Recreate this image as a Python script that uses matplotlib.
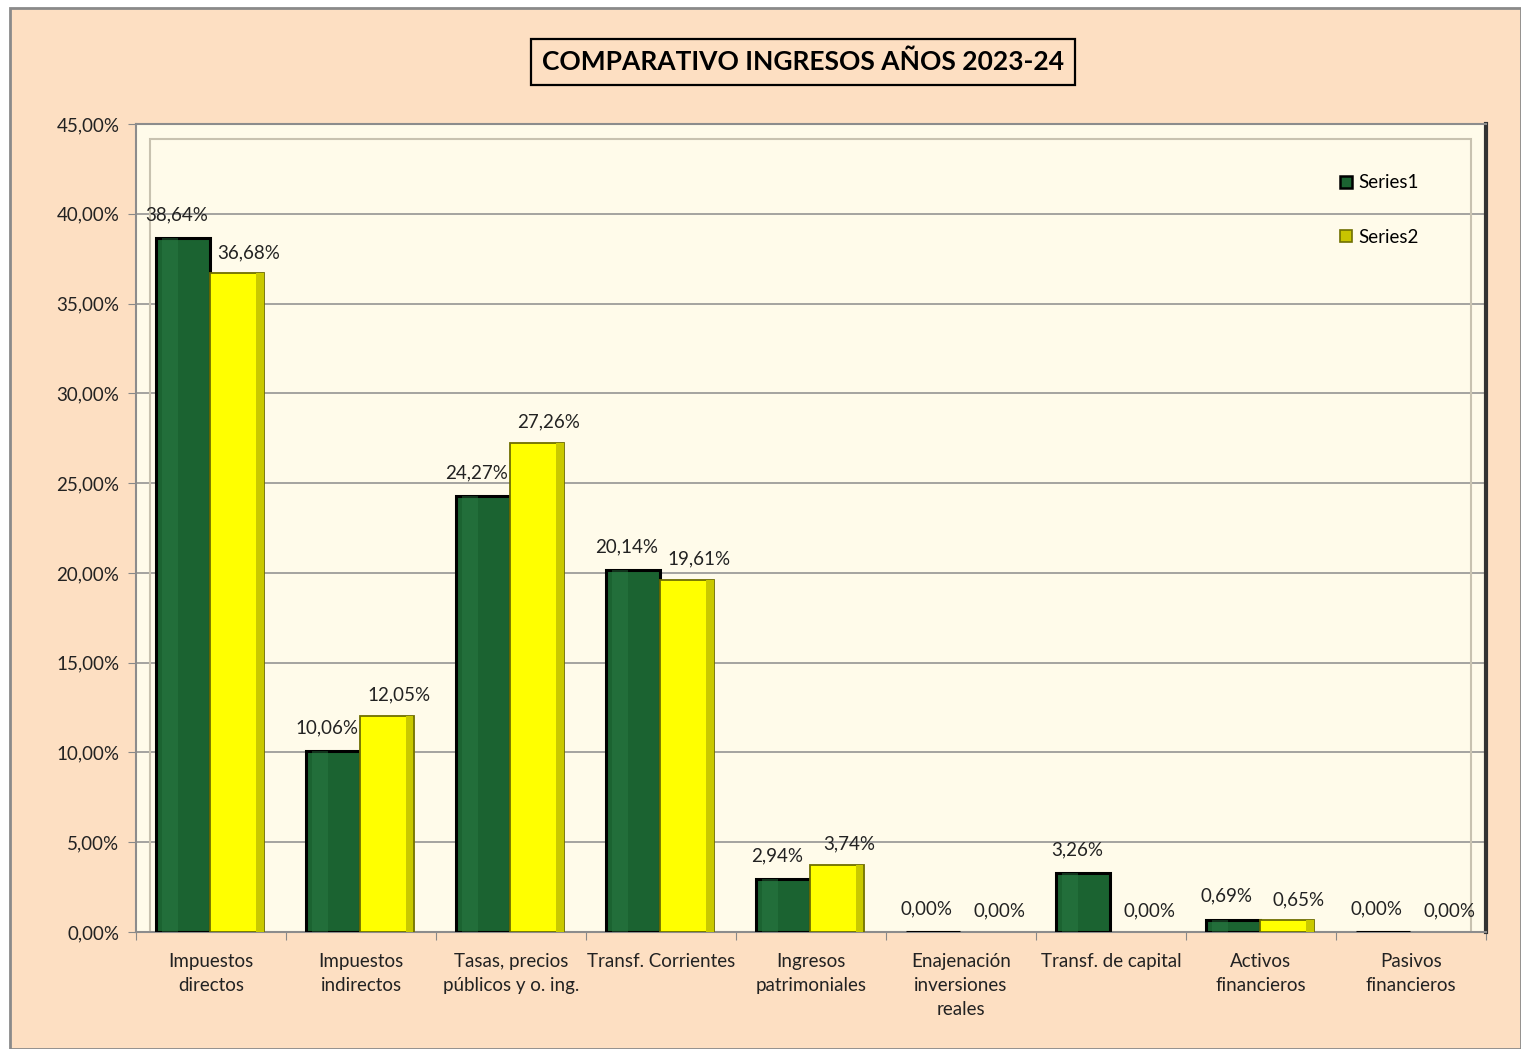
import matplotlib
matplotlib.use("Agg")
import matplotlib.pyplot as plt
from matplotlib.patches import Rectangle
from matplotlib.lines import Line2D
import numpy as np

categories = ["Impuestos\ndirectos", "Impuestos\nindirectos", "Tasas, precios\npúblicos y o. ing.",
              "Transf. Corrientes", "Ingresos\npatrimoniales", "Enajenación\ninversiones\nreales",
              "Transf. de capital", "Activos\nfinancieros", "Pasivos\nfinancieros"]
series1 = [38.64, 10.06, 24.27, 20.14, 2.94, 0.00, 3.26, 0.69, 0.00]
series2 = [36.68, 12.05, 27.26, 19.61, 3.74, 0.00, 0.00, 0.65, 0.00]
series_names = ["Series1", "Series2"]
yticks = [0, 5, 10, 15, 20, 25, 30, 35, 40, 45]
title = "COMPARATIVO INGRESOS AÑOS 2023-24"

plt.rcParams['font.family'] = ['Lato', 'DejaVu Sans']

W, H = 1521, 1049
fig = plt.figure(figsize=(W / 100, H / 100), dpi=100)
fig.patch.set_facecolor("white")

# outer chart area
bg = Rectangle((10 / W, 0), 1 - 10 / W, 1 - 8 / H, transform=fig.transFigure,
               facecolor="#FDDFC2", edgecolor="#8a8a8a", linewidth=2, zorder=-10)
fig.patches.append(bg)

ax = fig.add_axes([136 / W, 1 - 932 / H, (1486 - 136) / W, (932 - 124) / H])
ax.set_zorder(5)
ax.set_facecolor("#FFFBEA")

x = np.arange(len(categories))
w = 0.36
green = "#1B6331"
yellow = "#FFFF00"

b1 = ax.bar(x - 0.19, series1, w, color=green, edgecolor="black", linewidth=2.2, zorder=3)
b2 = ax.bar(x + 0.17, series2, w, color=yellow, edgecolor="#6f6f00",
            linewidth=[1.3 if v > 0 else 0 for v in series2], zorder=3)

# subtle highlights on green bars (texture hint)
for r in b1:
    if r.get_height() > 0:
        ax.add_patch(Rectangle((r.get_x() + r.get_width() * 0.12, 0), r.get_width() * 0.3,
                               r.get_height(), facecolor="#2E8048", edgecolor="none",
                               alpha=0.4, zorder=3.5))
# bevel on yellow bars
for r in b2:
    if r.get_height() > 0:
        ax.add_patch(Rectangle((r.get_x() + r.get_width() * 0.86, 0), r.get_width() * 0.14,
                               r.get_height(), facecolor="#C9C900", edgecolor="none", zorder=3.5))


def fmt(v):
    return f"{v:.2f}".replace(".", ",") + "%"


FS = 13.5
for r, v in zip(b1, series1):
    ax.annotate(fmt(v), (r.get_x() + r.get_width() / 2, v), xytext=(-4, 17),
                textcoords="offset points", ha="center", va="center", fontsize=FS,
                color="#222222", zorder=5)
for r, v in zip(b2, series2):
    ax.annotate(fmt(v), (r.get_x() + r.get_width() / 2, v), xytext=(9, 15),
                textcoords="offset points", ha="center", va="center", fontsize=FS,
                color="#222222", zorder=5)

ax.set_xlim(-0.5, len(categories) - 0.5)
ax.set_ylim(0, 45)
ax.set_yticks(yticks)
ax.set_yticklabels([f"{t:.2f}".replace(".", ",") + "%" for t in yticks], fontsize=13.5, color="#222222")
ax.set_xticks(np.arange(len(categories) + 1) - 0.5, minor=False)
ax.set_xticklabels([])
ax.set_xticks(x, minor=True)
ax.set_xticklabels(categories, minor=True, fontsize=FS, color="#222222", linespacing=1.5, va="top")
ax.tick_params(axis="x", which="minor", length=0, pad=15)
ax.tick_params(axis="x", which="major", length=6, color="#888888")
ax.tick_params(axis="y", length=6, color="#888888", pad=6)

ax.grid(axis="y", color="#8c8c8c", linewidth=1.1, zorder=1)
for s in ["left", "bottom", "top"]:
    ax.spines[s].set_color("#8c8c8c")
    ax.spines[s].set_linewidth(1.5)
ax.spines["right"].set_color("#333333")
ax.spines["right"].set_linewidth(3)

# inner wall frame
ax.add_patch(Rectangle((0.0105, -0.01), 0.9785, 0.992, transform=ax.transAxes, facecolor="none",
                       edgecolor="#c8c2b0", linewidth=1.5, zorder=2))

handles = [Line2D([], [], marker="s", linestyle="none", markersize=9, markerfacecolor=green,
                  markeredgecolor="black", markeredgewidth=1.8),
           Line2D([], [], marker="s", linestyle="none", markersize=8, markerfacecolor="#C8C400",
                  markeredgecolor="#6f6f00", markeredgewidth=1.2)]
leg = ax.legend(handles, series_names, loc="upper left", bbox_to_anchor=(1332 / W, 1 - 167 / H),
                bbox_transform=fig.transFigure, frameon=False, fontsize=FS, labelspacing=2.0,
                handlelength=0.7, handletextpad=0.3, borderaxespad=0)

fig.text(803 / W, 1 - 62 / H, title, ha="center", va="center", fontsize=19, fontweight="bold",
         color="black", bbox=dict(boxstyle="square,pad=0.42", facecolor="#FDDFC2",
                                  edgecolor="black", linewidth=1.6))

fig.savefig("out.png", dpi=100)
